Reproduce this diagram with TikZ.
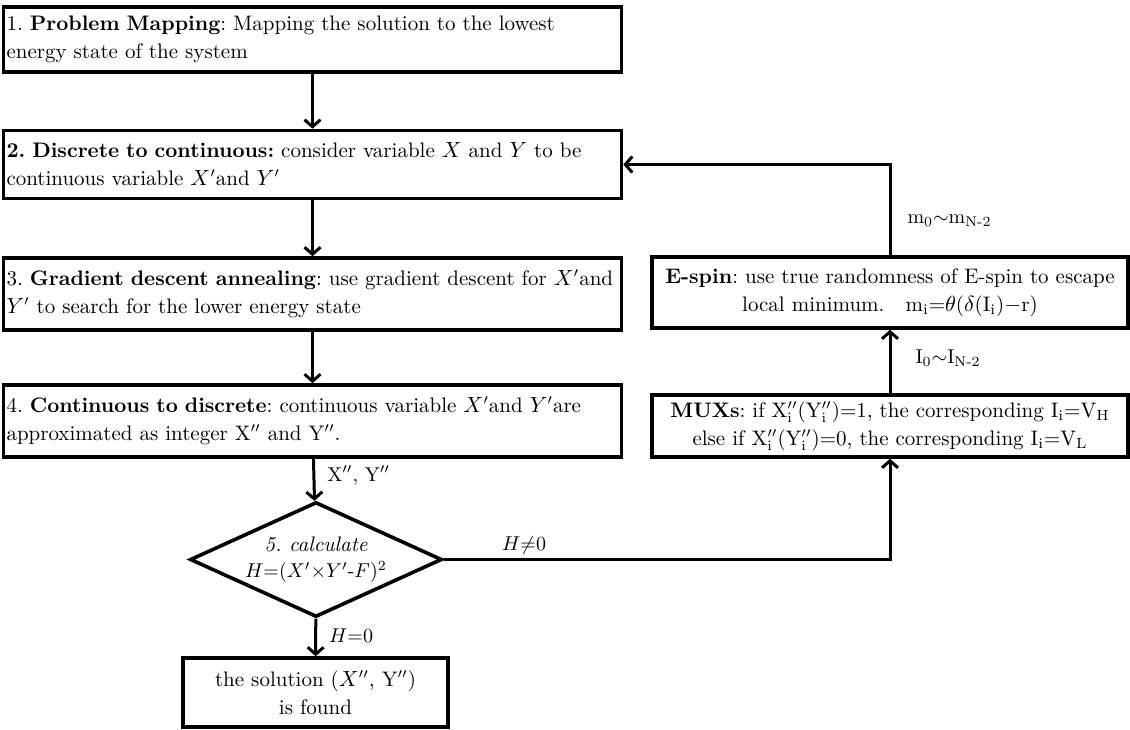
\documentclass[tikz,border=0pt]{standalone}
\usetikzlibrary{arrows.meta,positioning,shapes.geometric}
\frenchspacing
\tikzset{
  stagebox/.style={draw, line width=1.8pt, align=left, inner xsep=1.5pt, inner ysep=1pt, text width=306pt, minimum height=34pt, font=\fontsize{10.5}{14}\selectfont},
  hwbox/.style={draw, line width=1.8pt, align=center, inner xsep=1pt, inner ysep=1pt, text width=236pt, minimum height=34pt, font=\fontsize{10.5}{14}\selectfont},
  endbox/.style={draw, line width=1.8pt, align=center, inner sep=1pt, minimum width=132.5pt, minimum height=34.5pt, font=\fontsize{10.5}{14}\selectfont},
  decision/.style={diamond, draw, line width=1.8pt, aspect=2.2, minimum width=126pt, minimum height=57.5pt, inner sep=0pt, align=center, font=\fontsize{10.5}{14}\selectfont},
  arrow/.style={-{Straight Barb[length=3.5pt,width=8pt]}, line width=1.5pt},
  lbl/.style={font=\fontsize{10}{12}\selectfont, inner sep=2pt}
}
\begin{document}
\begin{tikzpicture}[x=0.5pt, y=-0.5pt]
  \useasboundingbox (0,0) rectangle (1130,729);
  % left column: the annealing steps
  \node[stagebox, minimum height=32.5pt] (map) at (312.5,39.5) {1. \textbf{Problem Mapping}: Mapping the solution to the lowest\\energy state of the system};
  \node[stagebox] (relax) at (312.5,164.5) {\textbf{2. Discrete to continuous:} consider variable $X$ and $Y$ to be\\continuous variable $X'$and $Y'$};
  \node[stagebox, minimum height=36pt] (descent) at (312.5,294) {\mbox{3. \textbf{Gradient descent annealing}: use gradient descent for $X'$and}\\$Y'$ to search for the lower energy state};
  \node[stagebox, minimum height=36pt] (round) at (312.5,421) {4. \textbf{Continuous to discrete}: continuous variable $X'$and $Y'$are\\approximated as integer X$''$ and Y$''$.};
  \node[decision] (calc) at (316,559.5) {\textit{5. calculate}\\[-1pt]{\fontsize{10}{12}\selectfont $H$=($X'{\times}Y'$-$F$)$^2$}};
  \node[endbox] (found) at (315.5,692.5) {the solution ($X''$, Y$''$)\\is found};
  % right column: hardware feedback
  \node[hwbox, minimum height=35.5pt] (espin) at (890,292.5) {\textbf{E-spin}: use true randomness of E-spin to escape\\local minimum.\quad m\textsubscript{i}=$\theta$($\delta$(I\textsubscript{i})$-$r)};
  \node[hwbox, minimum height=31pt] (mux) at (890,426) {\textbf{MUXs}: if X$''_{\mathrm{i}}$(Y$''_{\mathrm{i}}$)=1, the corresponding I\textsubscript{i}=V\textsubscript{H}\\else if X$''_{\mathrm{i}}$(Y$''_{\mathrm{i}}$)=0, the corresponding I\textsubscript{i}=V\textsubscript{L}};

  \draw[arrow] (map) -- (relax);
  \draw[arrow] (relax) -- (descent);
  \draw[arrow] (descent) -- (round);
  \draw[arrow] (round) -- node[lbl, right=4pt, pos=0.4]{X$''$, Y$''$} (calc);
  \draw[arrow] (calc) -- node[lbl, right=4pt, pos=0.45]{$H$=0} (found);
  \draw[arrow] (calc.east) -| node[lbl, above, pos=0.09]{$H{\neq}0$} (mux.south);
  \draw[arrow] (mux) -- node[lbl, right=10pt, pos=0.55]{I\textsubscript{0}$\sim$I\textsubscript{N-2}} (espin);
  \draw[arrow] (espin.north) |- node[lbl, right=6pt, pos=0.19]{m\textsubscript{0}$\sim$m\textsubscript{N-2}} (relax.east);
\end{tikzpicture}
\end{document}
